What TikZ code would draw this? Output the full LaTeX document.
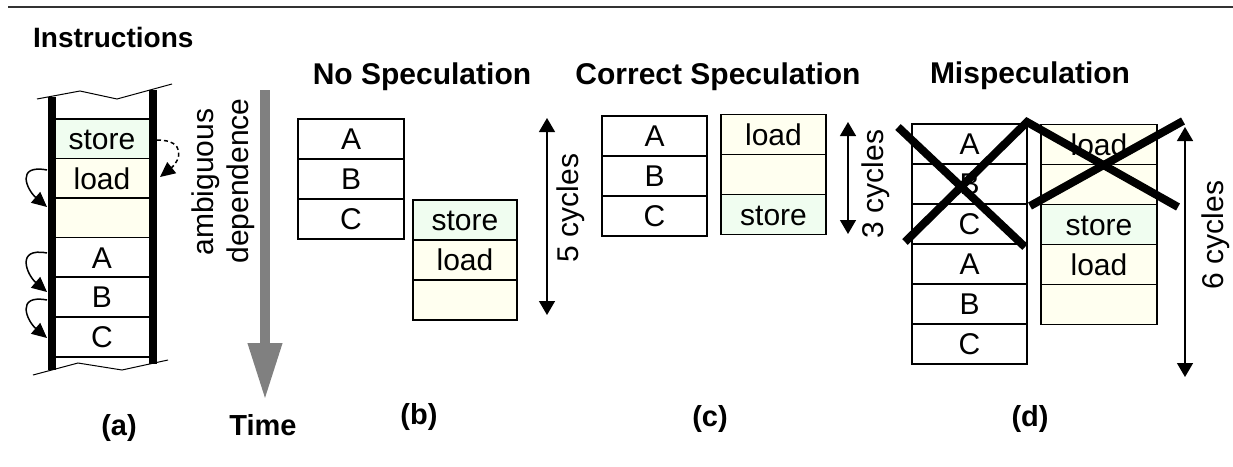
\documentclass[tikz,border=0pt]{standalone}
\usepackage{fontspec}
\setmainfont{Liberation Sans}
\usetikzlibrary{arrows.meta}

\definecolor{storefill}{RGB}{240,253,240}
\definecolor{loadfill}{RGB}{255,255,240}
\definecolor{timegray}{RGB}{128,128,128}

\newcommand\cellsize{\fontsize{30pt}{34pt}\selectfont}
\newcommand\titlesize{\fontsize{30pt}{34pt}\selectfont\bfseries}
\newcommand\labelsize{\fontsize{29pt}{33pt}\selectfont\bfseries}

\begin{document}
\begin{tikzpicture}[x=1pt,y=-1pt,
  cell/.style={draw, line width=1.2pt, inner sep=0pt, minimum height=40pt,
    minimum width=#1, text height=21.5pt, text depth=0pt, font=\cellsize},
  cell/.default=105pt,
  st/.style={fill=storefill},
  ld/.style={fill=loadfill},
  wh/.style={fill=white},
  title/.style={anchor=base, inner sep=0pt, font=\titlesize},
  sublabel/.style={anchor=base, inner sep=0pt, font=\labelsize},
  vtext/.style={anchor=base, inner sep=0pt, rotate=90, font=\cellsize},
  bar/.style={line width=8pt, line cap=butt},
  zig/.style={line width=1pt},
  dep/.style={line width=1.5pt, -{Triangle[length=15pt,width=14pt]}},
  span/.style={line width=1.4pt,
    {Triangle[length=14pt,width=16pt]}-{Triangle[length=14pt,width=16pt]}},
  cross/.style={line width=8pt, line join=miter}]

\useasboundingbox (0,0) rectangle (1233,466);

% header rule
\draw[line width=2pt, black!80] (8,7) -- (1233,7);

% ---------- (a) instruction window ----------
\node[anchor=base west, inner sep=0pt, font=\fontsize{28pt}{32pt}\selectfont\bfseries]
  (instr) at (33,47) {Instructions};

\node[cell=101pt, st] (aS) at (102,139)   {store};
\node[cell=101pt, ld] (aL) at (102,178.5) {load};
\node[cell=101pt, ld] (aE) at (102,218)   {};
\node[cell=101pt, wh] (aA) at (102,257.5) {A};
\node[cell=101pt, wh] (aB) at (102,297)   {B};
\node[cell=101pt, wh] (aC) at (102,337)   {C};

\draw[zig] (37,99) -- (80,91) -- (117,99) -- (172,84);
\draw[zig] (33,375) -- (78,363) -- (122,370) -- (168,360);
\draw[bar] (51.5,96.5) -- (51.5,370);
\draw[bar] (152.5,89.5) -- (152.5,363.5);

% dependences along the window
\coordinate (d1s) at (47,170);  \coordinate (d1e) at (47,207);
\coordinate (d2s) at (47,253);  \coordinate (d2e) at (47,292);
\coordinate (d3s) at (47,300);  \coordinate (d3e) at (47,338);
\draw[dep] (d1s) .. controls +(-32,-6) and +(-20,-17) .. (d1e);
\draw[dep] (d2s) .. controls +(-32,-6) and +(-20,-17) .. (d2e);
\draw[dep] (d3s) .. controls +(-32,-6) and +(-20,-17) .. (d3e);

\coordinate (ads) at (157,140); \coordinate (ade) at (160,177);
\draw[dep, dash pattern=on 4pt off 3pt] (ads) .. controls +(30,0) and +(20,-16) .. (ade);

\node[vtext] (amb) at (213,182) {ambiguous};
\node[vtext] (dpn) at (248,181) {dependence};

% time axis
\coordinate (t0) at (265,90); \coordinate (t1) at (265,400);
\draw[line width=10pt, timegray, -{Triangle[length=57pt,width=32pt]}] (t0) -- (t1);

\node[sublabel] (la) at (119,435) {(a)};
\node[sublabel] (lt) at (263,435) {Time};

% ---------- (b) no speculation ----------
\node[title] (tb) at (422,84) {No Speculation};
\node[cell=106pt, wh] (bA) at (351,139) {A};
\node[cell=106pt, wh] (bB) at (351,179) {B};
\node[cell=106pt, wh] (bC) at (351,219) {C};
\node[cell=104pt, st] (bS) at (465,220) {store};
\node[cell=104pt, ld] (bL) at (465,260) {load};
\node[cell=104pt, ld] (bE) at (465,300) {};
\coordinate (b5t) at (547,118); \coordinate (b5b) at (547,315);
\draw[span] (b5t) -- (b5b);
\node[vtext] (b5) at (578,208) {5 cycles};
\node[sublabel] (lb) at (419,424) {(b)};

% ---------- (c) correct speculation ----------
\node[title] (tc) at (718,84) {Correct Speculation};
\node[cell=105pt, wh] (cA) at (654.5,136) {A};
\node[cell=105pt, wh] (cB) at (654.5,176) {B};
\node[cell=105pt, wh] (cC) at (654.5,216) {C};
\node[cell=105pt, ld] (cL) at (773.5,134.5) {load};
\node[cell=105pt, ld] (cE) at (773.5,174.5) {};
\node[cell=105pt, st] (cS) at (773.5,214.5) {store};
\coordinate (c3t) at (848,122); \coordinate (c3b) at (848,234);
\draw[span] (c3t) -- (c3b);
\node[vtext] (c3) at (883,184) {3 cycles};
\node[sublabel] (lc) at (710,426) {(c)};

% ---------- (d) misspeculation ----------
\node[title] (td) at (1030,83) {Mispeculation};
\node[cell=115pt, wh] (dA1) at (969.5,144) {A};
\node[cell=115pt, wh] (dB1) at (969.5,184) {B};
\node[cell=115pt, wh] (dC1) at (969.5,224) {C};
\node[cell=115pt, wh] (dA2) at (969.5,264) {A};
\node[cell=115pt, wh] (dB2) at (969.5,304) {B};
\node[cell=115pt, wh] (dC2) at (969.5,344) {C};
\node[cell=116pt, ld] (dL1) at (1099,144.5) {load};
\node[cell=116pt, ld] (dE1) at (1099,184.5) {};
\node[cell=116pt, st] (dS)  at (1099,224.5) {store};
\node[cell=116pt, ld] (dL2) at (1099,264.5) {load};
\node[cell=116pt, ld] (dE2) at (1099,304.5) {};

% squashed work
\draw[cross] (898,127) -- (1025,247);
\draw[cross] (905,242) -- (1027,122) -- (1178,207);
\draw[cross] (1030,206) -- (1183,121);

\coordinate (d6t) at (1185,127); \coordinate (d6b) at (1185,377);
\draw[span] (d6t) -- (d6b);
\node[vtext] (d6) at (1223,235) {6 cycles};
\node[sublabel] (ld) at (1030,426) {(d)};

\end{tikzpicture}
\end{document}
